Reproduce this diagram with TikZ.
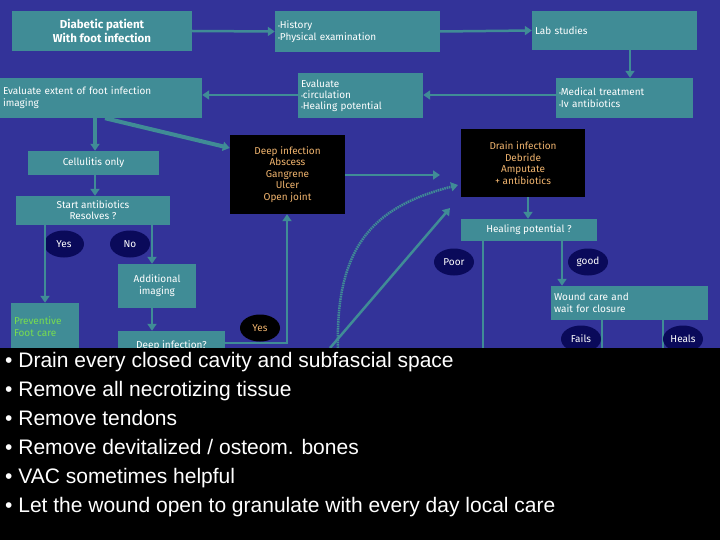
\documentclass[tikz,border=0pt]{standalone}
\usepackage{fontspec}
\setmainfont{Fira Sans}
\newfontfamily\panelfont{Liberation Sans}
\usetikzlibrary{arrows.meta,shapes.geometric}
\definecolor{bgblue}{RGB}{51,51,153}
\definecolor{teal}{RGB}{64,140,150}
\definecolor{navy}{RGB}{10,10,90}
\definecolor{orangetxt}{RGB}{240,180,110}
\definecolor{greentxt}{RGB}{120,220,80}
\newcommand{\dotb}{{\fontsize{6}{6}\selectfont\textbullet}}
\tikzset{
	box/.style = {fill = teal, text = white, inner sep = 3pt, font = \fontsize{10}{12}\selectfont},
	blk/.style = {fill = black, text = orangetxt, align = center, inner sep = 2pt, font = \fontsize{10}{11.5}\selectfont},
	oval/.style = {ellipse, fill = navy, text = white, minimum width = 40pt, minimum height = 27pt, inner sep = 0pt, font = \fontsize{10}{12}\selectfont},
	link/.style = {draw = teal, line width = 2.5pt, -{Triangle[length = 7pt, width = 9pt]}},
	plain/.style = {draw = teal, line width = 2.5pt}
}
\begin{document}
\begin{tikzpicture}[x = 1pt, y = -1pt]
	\fill [bgblue] (0,0) rectangle (720,540);
	\useasboundingbox (0,0) rectangle (720,540);
	% top row
	\node [box, minimum width = 180pt, minimum height = 40pt, align = center, font = \bfseries\fontsize{11.5}{14}\selectfont] (diab) at (102,31) {Diabetic patient\\With foot infection};
	\node [box, minimum width = 165pt, minimum height = 41pt, text width = 159pt, align = left] (hist) at (357.5,31.5) {\dotb History\\\dotb Physical examination};
	\node [box, minimum width = 165pt, minimum height = 39pt, text width = 159pt, align = left] (lab) at (614.5,30.5) {Lab studies};
	% second row
	\node [box, minimum width = 202pt, minimum height = 40pt, text width = 196pt, align = left] (extent) at (101,98) {Evaluate extent of foot infection\\imaging};
	\node [box, minimum width = 125pt, minimum height = 45pt, text width = 119pt, align = left, font = \fontsize{10}{11}\selectfont] (circ) at (360.5,95.5) {Evaluate\\\dotb circulation\\\dotb Healing potential};
	\node [box, minimum width = 137pt, minimum height = 40pt, text width = 131pt, align = left] (med) at (624.5,98) {\dotb Medical treatment\\\dotb Iv antibiotics};
	% black boxes
	\node [blk, minimum width = 115pt, minimum height = 79pt] (deep) at (287.5,174.5) {Deep infection\\Abscess\\Gangrene\\Ulcer\\Open joint};
	\node [blk, minimum width = 124pt, minimum height = 68pt] (drain) at (523,163) {Drain infection\\Debride\\Amputate\\+ antibiotics};
	% left branch
	\node [box, minimum width = 131pt, minimum height = 24pt, align = center] (cell) at (93.5,163) {Cellulitis only};
	\node [box, minimum width = 154pt, minimum height = 29pt, align = center, font = \fontsize{10}{11}\selectfont] (start) at (93,210.5) {Start antibiotics\\Resolves ?};
	\node [oval] (yes) at (64,244) {Yes};
	\node [oval] (no) at (130,244) {No};
	\node [box, minimum width = 78pt, minimum height = 44pt, align = center] (addi) at (157,286) {Additional\\imaging};
	\node [box, minimum width = 68pt, minimum height = 48pt, text width = 62pt, align = left, text = greentxt] (prev) at (45,327) {Preventive\\Foot care};
	\node [box, minimum width = 107pt, minimum height = 30pt, align = center] (deepq) at (171.5,346) {Deep infection?};
	\node [oval, fill = black, text = orangetxt] (yes2) at (260,328) {Yes};
	% right branch
	\node [box, minimum width = 136pt, minimum height = 22pt, align = center] (heal) at (529,230) {Healing potential ?};
	\node [oval] (poor) at (454,262) {Poor};
	\node [oval] (good) at (588,262) {good};
	\node [box, minimum width = 157pt, minimum height = 34pt, text width = 151pt, align = left] (wound) at (629.5,303) {Wound care and\\wait for closure};
	% connectors
	\draw [link] (diab.east) -- (hist.west);
	\draw [link] (hist.east) -- (lab.west);
	\draw [link] (lab.south -| 630,0) -- (med.north -| 630,0);
	\draw [link] (med.west |- 0,95) -- (circ.east |- 0,95);
	\draw [link] (circ.west |- 0,95) -- (extent.east |- 0,95);
	\draw [link, line width = 4pt] (extent.south -| 95,0) -- (cell.north -| 95,0);
	\draw [link, line width = 4pt] (extent.south -| 105,0) -- (deep.west |- 0,148);
	\draw [link] (cell.south -| 95,0) -- (start.north -| 95,0);
	\draw [link] (start.south -| 45,0) -- (prev.north -| 45,0);
	\draw [link] (start.south -| 152,0) -- (addi.north -| 152,0);
	\draw [link] (addi.south -| 152,0) -- (deepq.north -| 152,0);
	\draw [link] (deepq.east |- 0,343) -| (deep.south -| 287,0);
	\draw [link] (deep.east |- 0,175) -- (440,175);
	\draw [draw = teal, line width = 2.5pt, dash pattern = on 1.5pt off 0.8pt, -{Triangle[length = 7pt, width = 9pt]}] (338,348) .. controls (335,240) and (380,205) .. (458,185);
	\draw [link] (330,348) -- (450,208);
	\draw [link] (drain.south -| 528,0) -- (heal.north -| 528,0);
	\draw [link] (heal.south -| 562,0) -- (wound.north -| 562,0);
	\draw [plain] (heal.south -| 483,0) -- (483,350);
	\draw [plain] (wound.south -| 602,0) -- (602,350);
	\draw [plain] (wound.south -| 663,0) -- (663,350);
	\node [oval] (fails) at (581,339) {Fails};
	\node [oval] (heals) at (683,339) {Heals};
	% bottom panel
	\fill [black] (0,348) rectangle (720,540);
	\node [anchor = north west, text = white, align = left, inner sep = 0pt, font = \panelfont\fontsize{21}{29}\selectfont] (steps) at (5,352) {\textbullet\ Drain every closed cavity and subfascial space\\\textbullet\ Remove all necrotizing tissue\\\textbullet\ Remove tendons\\\textbullet\ Remove devitalized / osteom. bones\\\textbullet\ VAC sometimes helpful\\\textbullet\ Let the wound open to granulate with every day local care};
\end{tikzpicture}
\end{document}
